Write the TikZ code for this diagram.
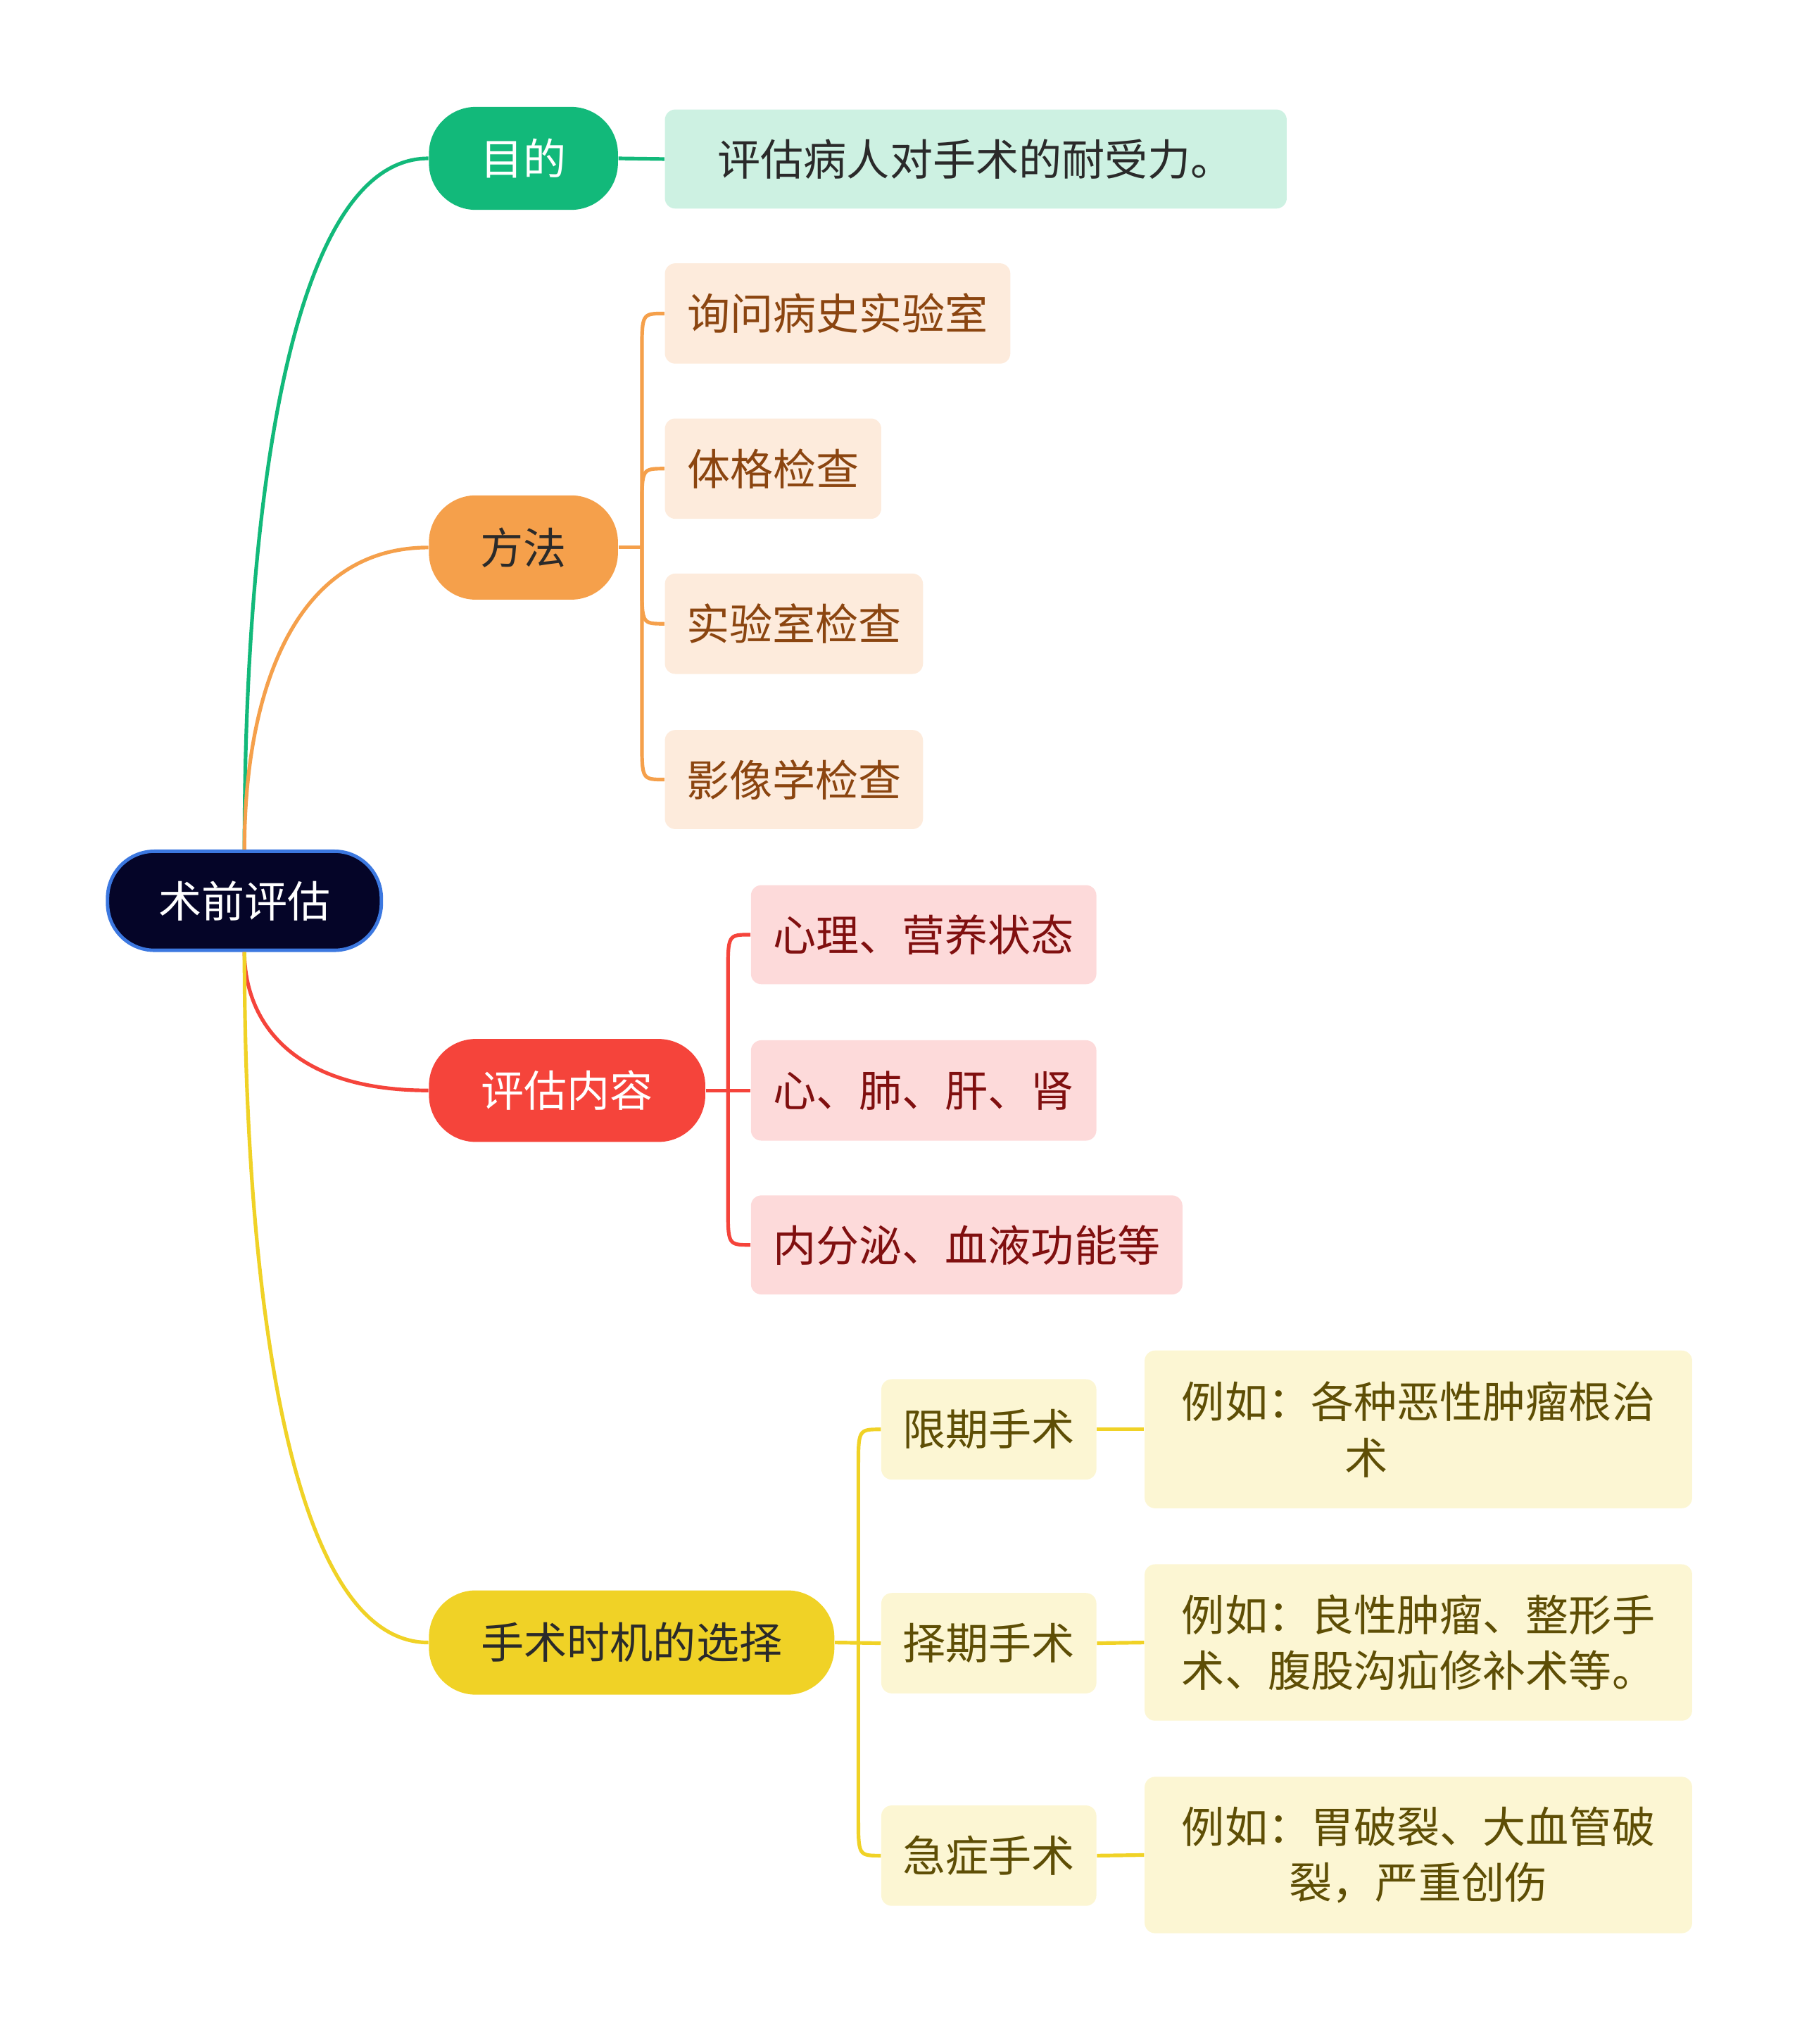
\documentclass[tikz,border=0pt]{standalone}
\usepackage{fontspec}
\setmainfont{Noto Sans CJK SC}
\usetikzlibrary{calc}
\definecolor{rootfill}{HTML}{050528}
\definecolor{rootline}{HTML}{3C78E0}
\definecolor{cgreen}{HTML}{12B97A}
\definecolor{lgreen}{HTML}{CDF1E2}
\definecolor{corange}{HTML}{F5A04B}
\definecolor{lorange}{HTML}{FDEBDC}
\definecolor{torange}{HTML}{8B4510}
\definecolor{cred}{HTML}{F5443B}
\definecolor{lred}{HTML}{FDDADA}
\definecolor{tred}{HTML}{800F0F}
\definecolor{cyellow}{HTML}{F0D226}
\definecolor{lyellow}{HTML}{FCF6D3}
\definecolor{tyellow}{HTML}{5E4E05}
\definecolor{tdark}{HTML}{2A2A2A}
\tikzset{
  base/.style={inner sep=0pt, align=center, font=\fontsize{16.5}{21.5}\selectfont},
  pill/.style={base, rounded corners=18pt},
  leaf/.style={base, rounded corners=4pt},
  conn/.style={line width=1.4pt},
}
\begin{document}
\begin{tikzpicture}[x=0.5pt,y=-0.5pt]
\useasboundingbox (0,0) rectangle (1382,1568);
% main nodes
\node[pill, fill=rootfill, draw=rootline, line width=1.3pt, text=white, minimum width=105pt, minimum height=38pt] (root) at (187.5,691) {术前评估};
\node[pill, fill=cgreen, text=white, minimum width=72.5pt, minimum height=39.5pt] (mudi) at (401.5,121.5) {目的};
\node[pill, fill=corange, text=tdark, minimum width=72.5pt, minimum height=40pt] (fangfa) at (401.5,420) {方法};
\node[pill, fill=cred, text=white, minimum width=106pt, minimum height=39.5pt] (neirong) at (435,836.5) {评估内容};
\node[pill, fill=cyellow, text=tdark, minimum width=155.5pt, minimum height=40pt] (shiji) at (484.5,1260) {手术时机的选择};
% children
\node[leaf, fill=lgreen, text=tdark, minimum width=238.5pt, minimum height=38pt] (m1) at (748.5,122) {评估病人对手术的耐受力。};
\node[leaf, fill=lorange, text=torange, minimum width=132.5pt, minimum height=38.5pt] (f1) at (642.5,240.5) {询问病史实验室};
\node[leaf, fill=lorange, text=torange, minimum width=83pt, minimum height=38.5pt] (f2) at (593,359.5) {体格检查};
\node[leaf, fill=lorange, text=torange, minimum width=99pt, minimum height=38.5pt] (f3) at (609,478.5) {实验室检查};
\node[leaf, fill=lorange, text=torange, minimum width=99pt, minimum height=38pt] (f4) at (609,598) {影像学检查};
\node[leaf, fill=lred, text=tred, minimum width=132.5pt, minimum height=38pt] (p1) at (708.5,717) {心理、营养状态};
\node[leaf, fill=lred, text=tred, minimum width=132.5pt, minimum height=38.5pt] (p2) at (708.5,836.5) {心、肺、肝、肾};
\node[leaf, fill=lred, text=tred, minimum width=165.5pt, minimum height=38pt] (p3) at (741.5,955) {内分泌、血液功能等};
\node[leaf, fill=lyellow, text=tyellow, minimum width=82.5pt, minimum height=38.5pt] (s1) at (758.5,1096.5) {限期手术};
\node[leaf, fill=lyellow, text=tyellow, minimum width=82.5pt, minimum height=38.5pt] (s2) at (758.5,1260.5) {择期手术};
\node[leaf, fill=lyellow, text=tyellow, minimum width=82.5pt, minimum height=38.5pt] (s3) at (758.5,1423.5) {急症手术};
\node[leaf, fill=lyellow, text=tyellow, minimum width=210pt, minimum height=60.5pt] (g1) at (1088,1096.5) {例如：各种恶性肿瘤根治\\术\hspace*{40pt}};
\node[leaf, fill=lyellow, text=tyellow, minimum width=210pt, minimum height=60pt] (g2) at (1088,1260) {例如：良性肿瘤、整形手\\术、腹股沟疝修补术等。};
\node[leaf, fill=lyellow, text=tyellow, minimum width=210pt, minimum height=60pt] (g3) at (1088,1423) {例如：胃破裂、大血管破\\裂，严重创伤};
% root connectors
\draw[conn, cgreen] (root.north) .. controls (187.5,400) and (220,121.5) .. (mudi.west);
\draw[conn, corange] (root.north) .. controls (187.5,542) and (220,420) .. (fangfa.west);
\draw[conn, cred] (root.south) .. controls (187.5,780) and (220,836.5) .. (neirong.west);
\draw[conn, cyellow] (root.south) .. controls (187.5,982) and (220,1260) .. (shiji.west);
% green
\draw[conn, cgreen] (mudi.east) -- (m1.west);
% orange bracket
\coordinate (fb) at ($(fangfa.east)+(18,0)$);
\draw[conn, corange] (fangfa.east) -- (fb);
\draw[conn, corange] (fb) -- ($(fb|-f1.west)+(0,30)$) .. controls (fb|-f1.west) .. (f1.west);
\draw[conn, corange] (fb) -- ($(fb|-f2.west)+(0,30)$) .. controls (fb|-f2.west) .. (f2.west);
\draw[conn, corange] (fb) -- ($(fb|-f3.west)+(0,-30)$) .. controls (fb|-f3.west) .. (f3.west);
\draw[conn, corange] (fb) -- ($(fb|-f4.west)+(0,-30)$) .. controls (fb|-f4.west) .. (f4.west);
% red bracket
\coordinate (pb) at ($(neirong.east)+(17,0)$);
\draw[conn, cred] (neirong.east) -- (p2.west);
\draw[conn, cred] (pb) -- ($(pb|-p1.west)+(0,30)$) .. controls (pb|-p1.west) .. (p1.west);
\draw[conn, cred] (pb) -- ($(pb|-p3.west)+(0,-30)$) .. controls (pb|-p3.west) .. (p3.west);
% yellow bracket
\coordinate (sb) at ($(shiji.east)+(18,0)$);
\draw[conn, cyellow] (shiji.east) -- (s2.west);
\draw[conn, cyellow] (sb) -- ($(sb|-s1.west)+(0,30)$) .. controls (sb|-s1.west) .. (s1.west);
\draw[conn, cyellow] (sb) -- ($(sb|-s3.west)+(0,-30)$) .. controls (sb|-s3.west) .. (s3.west);
\draw[conn, cyellow] (s1.east) -- (g1.west);
\draw[conn, cyellow] (s2.east) -- (g2.west);
\draw[conn, cyellow] (s3.east) -- (g3.west);
\end{tikzpicture}
\end{document}
